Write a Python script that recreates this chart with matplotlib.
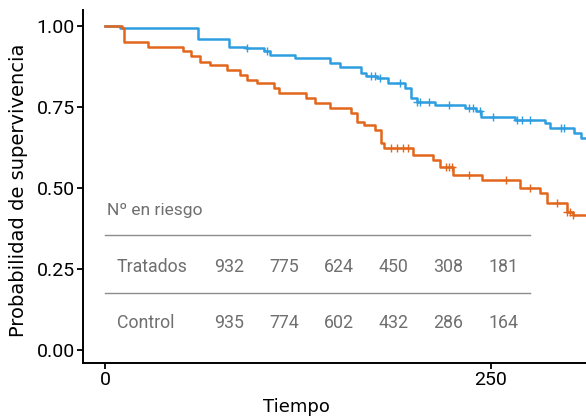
import numpy as np
import matplotlib.pyplot as plt

plt.rcParams['font.family'] = ['Roboto', 'DejaVu Sans']

# Kaplan-Meier steps: time of each drop and survival after it
treated_time = [0, 10, 60, 80, 91, 103, 107, 123, 146, 152, 166, 169, 176, 183, 194,
                198, 202, 214, 233, 240, 243.5, 265.5, 285, 288, 304, 308]
treated_surv = [1.0, 0.993, 0.960, 0.936, 0.931, 0.921, 0.910, 0.900, 0.885, 0.874,
                0.854, 0.844, 0.838, 0.823, 0.808, 0.777, 0.766, 0.756, 0.746, 0.736,
                0.720, 0.710, 0.700, 0.684, 0.669, 0.653]
treated_censor = [92, 105, 172, 175, 178, 191, 202, 204, 210, 223, 236, 238, 243,
                  251, 267, 270, 275, 295, 297]

control_time = [0, 11, 12.5, 28, 50.5, 56, 61.5, 68, 79, 87.5, 92, 98.5, 109.5, 113,
                130, 136, 146, 159, 163, 168, 175, 179, 181, 199.5, 212.5, 217, 225.5,
                244, 269, 282, 286, 299, 303]
control_surv = [1.0, 0.995, 0.951, 0.936, 0.921, 0.906, 0.890, 0.880, 0.864, 0.849,
                0.833, 0.823, 0.808, 0.792, 0.777, 0.761, 0.746, 0.731, 0.705, 0.694,
                0.679, 0.638, 0.622, 0.602, 0.586, 0.566, 0.540, 0.525, 0.499, 0.484,
                0.453, 0.427, 0.417]
control_censor = [185, 189, 193, 196, 221, 223, 225, 236, 260, 275, 293, 299, 301, 303]

t_end = 312

# Number at risk table
risk_groups = ['Tratados', 'Control']
risk_counts = [[932, 775, 624, 450, 308, 181],
               [935, 774, 602, 432, 286, 164]]

blue = '#2f9ee0'
orange = '#e2661c'
gray = '#6f6f6f'


def surv_at(times, surv, t):
    idx = np.searchsorted(times, t, side='right') - 1
    return np.asarray(surv)[idx]


fig = plt.figure(figsize=(5.86, 4.17), dpi=100)
ax = fig.add_axes([83 / 586, 54 / 417, 503 / 586, 353 / 417])

for times, surv, cens, col in [(treated_time, treated_surv, treated_censor, blue),
                               (control_time, control_surv, control_censor, orange)]:
    ax.step(list(times) + [t_end], list(surv) + [surv[-1]], where='post',
            color=col, lw=1.8)
    ax.plot(cens, surv_at(times, surv, cens), ls='none', marker='+',
            ms=6, mew=1.0, color=col)

# risk table drawn inside the axes
ax.text(1.3, 0.429, 'Nº en riesgo', color=gray, fontsize=12.5, va='center', ha='left')
ax.plot([0, 275], [0.355, 0.355], color='#8c8c8c', lw=1)
ax.plot([0, 275], [0.176, 0.176], color='#8c8c8c', lw=1)
col_x = [80.3 + 35.5 * i for i in range(6)]
for row_y, name, counts in zip([0.257, 0.084], risk_groups, risk_counts):
    ax.text(7.5, row_y, name, color=gray, fontsize=12.8, va='center', ha='left')
    for cx, n in zip(col_x, counts):
        ax.text(cx, row_y, str(n), color=gray, fontsize=12.8, va='center', ha='center')

ax.set_xlim(-14.25, 311.5)
ax.set_ylim(-0.040, 1.049)
ax.set_xticks([0, 250])
ax.set_yticks([0, 0.25, 0.5, 0.75, 1.0])
ax.set_yticklabels(['0.00', '0.25', '0.50', '0.75', '1.00'])

for side in ['top', 'right']:
    ax.spines[side].set_visible(False)
for side in ['left', 'bottom']:
    ax.spines[side].set_linewidth(1.4)
ax.tick_params(axis='both', length=4, width=1.3, labelsize=14, pad=2, colors='black')

ax.set_xlabel('Tiempo', fontsize=13, family='DejaVu Sans')
ax.xaxis.set_label_coords(0.425, -0.098)
ax.set_ylabel('Probabilidad de supervivencia', fontsize=14, family='DejaVu Sans')
ax.yaxis.set_label_coords(-0.109, 0.49)

fig.savefig('out.png', dpi=100)
